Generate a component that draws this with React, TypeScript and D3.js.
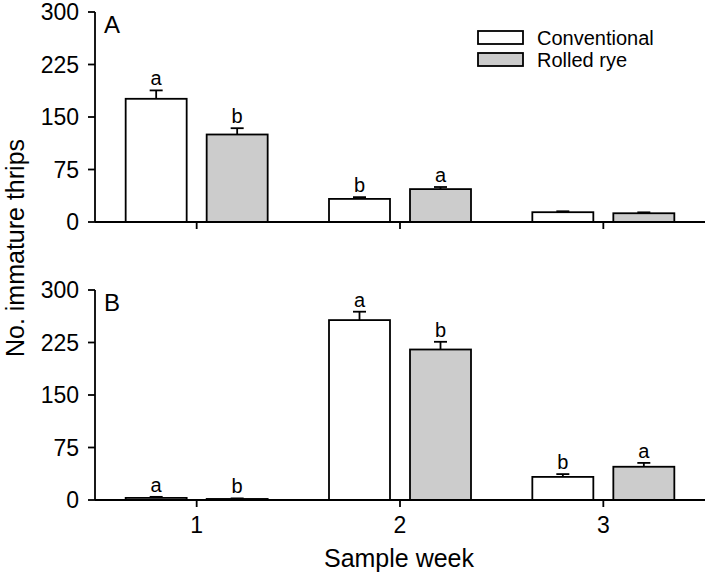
import React from 'react';
import * as d3 from 'd3';

// data
const weeks = [1, 2, 3];
const panelNames = ['A', 'B'];
const seriesNames = ['Conventional', 'Rolled rye'];
const yTicks = [0, 75, 150, 225, 300];

const convA = [176, 33, 14];
const convAErr = [12, 2.5, 1.3];
const ryeA = [125, 47, 12.5];
const ryeAErr = [9, 3, 1.3];
const convB = [3, 257, 33];
const convBErr = [1.5, 12, 4];
const ryeB = [1.5, 215, 47.5];
const ryeBErr = [0.8, 11, 5.5];

const lettersConvA = ['a', 'b', ''];
const lettersRyeA = ['b', 'a', ''];
const lettersConvB = ['a', 'a', 'b'];
const lettersRyeB = ['b', 'b', 'a'];

const W = 709;
const H = 574;
const font = "'Liberation Sans', Arial, sans-serif";
const fills = ['#ffffff', '#cccccc'];

const panels = [
  { name: panelNames[0], top: 12, series: [[convA, convAErr, lettersConvA], [ryeA, ryeAErr, lettersRyeA]] },
  { name: panelNames[1], top: 290, series: [[convB, convBErr, lettersConvB], [ryeB, ryeBErr, lettersRyeB]] },
];

const x = d3.scaleLinear().domain([0.5, 3.5]).range([95, 705]);
const barW = 61;
const barGap = 10;
const sw = 1.8;

const Panel = ({ p, showXLabels }: any) => {
  const y = d3.scaleLinear().domain([0, 300]).range([p.top + 210, p.top]);
  const y0 = y(0);
  return (
    <g>
      {p.series.map(([vals, errs, letters]: any, si: number) => (
        <g key={si}>
          {weeks.map((w, i) => {
            const x0 = si === 0 ? x(w) - barGap - barW : x(w) + barGap;
            const cx = x0 + barW / 2;
            const top = y(vals[i]);
            const errTop = y(vals[i] + errs[i]);
            return (
              <g key={w}>
                <line x1={cx} x2={cx} y1={top} y2={errTop} stroke="#000" strokeWidth={sw} />
                <line x1={cx - 6.5} x2={cx + 6.5} y1={errTop} y2={errTop} stroke="#000" strokeWidth={sw} />
                <rect x={x0} y={top} width={barW} height={y0 - top} fill={fills[si]} stroke="#000" strokeWidth={sw} />
                {letters[i] && (
                  <text x={cx} y={errTop - 5} textAnchor="middle" fontSize={20} fontFamily={font}>
                    {letters[i]}
                  </text>
                )}
              </g>
            );
          })}
        </g>
      ))}
      {/* y axis */}
      <line x1={95} x2={95} y1={y(300)} y2={y0} stroke="#000" strokeWidth={sw} />
      {yTicks.map((t) => (
        <g key={t}>
          <line x1={88} x2={95} y1={y(t)} y2={y(t)} stroke="#000" strokeWidth={sw} />
          <text x={79} y={y(t)} dy="0.36em" textAnchor="end" fontSize={23} fontFamily={font}>
            {t}
          </text>
        </g>
      ))}
      {/* x axis */}
      <line x1={95} x2={x(3.5)} y1={y0} y2={y0} stroke="#000" strokeWidth={sw} />
      {weeks.map((w) => (
        <g key={w}>
          <line x1={x(w)} x2={x(w)} y1={y0} y2={y0 + 7} stroke="#000" strokeWidth={sw} />
          {showXLabels && (
            <text x={x(w)} y={y0 + 33} textAnchor="middle" fontSize={23} fontFamily={font}>
              {w}
            </text>
          )}
        </g>
      ))}
      <text x={104} y={p.top + 21} fontSize={24} fontFamily={font}>
        {p.name}
      </text>
    </g>
  );
};

export default function App() {
  return (
    <svg width={W} height={H} style={{ position: 'absolute', left: 0, top: 0, background: '#fff' }}>
      <rect width={W} height={H} fill="#fff" />
      {panels.map((p, i) => (
        <Panel key={p.name} p={p} showXLabels={i === 1} />
      ))}
      {/* legend */}
      {seriesNames.map((s, i) => (
        <g key={s}>
          <rect x={478} y={31 + i * 22} width={45} height={13} fill={fills[i]} stroke="#000" strokeWidth={sw} />
          <text x={537} y={45 + i * 22} fontSize={20} fontFamily={font}>
            {s}
          </text>
        </g>
      ))}
      <text x={399} y={567} textAnchor="middle" fontSize={25} fontFamily={font}>
        Sample week
      </text>
      <text transform="translate(24,248) rotate(-90)" textAnchor="middle" fontSize={25} fontFamily={font}>
        No. immature thrips
      </text>
    </svg>
  );
}
